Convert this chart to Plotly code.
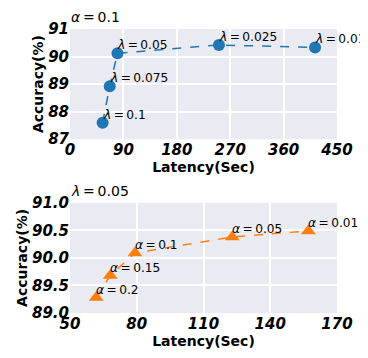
import plotly.graph_objects as go
from plotly.subplots import make_subplots

# Top panel: alpha = 0.1, varying lambda
lat_top = [55, 67, 80, 251, 413]
acc_top = [87.6, 88.92, 90.12, 90.42, 90.33]
lab_top = ["0.1", "0.075", "0.05", "0.025", "0.01"]
xticks_top = [0, 90, 180, 270, 360, 450]
yticks_top = [87, 88, 89, 90, 91]

# Bottom panel: lambda = 0.05, varying alpha
lat_bot = [61.8, 68.1, 79.2, 122.9, 157.1]
acc_bot = [89.28, 89.68, 90.09, 90.38, 90.49]
lab_bot = ["0.2", "0.15", "0.1", "0.05", "0.01"]
xticks_bot = [50, 80, 110, 140, 170]
yticks_bot = [89.0, 89.5, 90.0, 90.5, 91.0]

FONT = "DejaVu Sans"
BG = "#EAEAF2"
TS = "\u2009"  # thin space, like mathtext spacing around '='

fig = make_subplots(rows=2, cols=1, vertical_spacing=0.224)

fig.add_trace(go.Scatter(x=lat_top, y=acc_top, mode="lines+markers",
                         line=dict(color="#1f77b4", dash="dash", width=1.5),
                         marker=dict(symbol="circle", size=12, color="#1f77b4"),
                         showlegend=False), row=1, col=1)
fig.add_trace(go.Scatter(x=lat_bot, y=acc_bot, mode="lines+markers",
                         line=dict(color="#ff7f0e", dash="dash", width=1.5),
                         marker=dict(symbol="triangle-up", size=13, color="#ff7f0e"),
                         showlegend=False), row=2, col=1)

for x, y, t in zip(lat_top, acc_top, lab_top):
    fig.add_annotation(x=x, y=y, xref="x", yref="y", text="<i>λ</i>" + TS + "=" + TS + t,
                       showarrow=False, xanchor="left", yanchor="middle", borderpad=0,
                       xshift=-1, yshift=8, font=dict(family=FONT, size=12.2, color="black"))
for x, y, t in zip(lat_bot, acc_bot, lab_bot):
    fig.add_annotation(x=x, y=y, xref="x2", yref="y2", text="<i>α</i>" + TS + "=" + TS + t,
                       showarrow=False, xanchor="left", yanchor="middle", borderpad=0,
                       xshift=-1, yshift=8, font=dict(family=FONT, size=12.2, color="black"))

fig.add_annotation(x=0, y=1, xref="x domain", yref="y domain", text="<i>α</i>" + TS + "=" + TS + "0.1",
                   showarrow=False, xanchor="left", yanchor="middle", yshift=12, borderpad=0,
                   font=dict(family=FONT, size=14, color="black"))
fig.add_annotation(x=0, y=1, xref="x2 domain", yref="y2 domain", text="<i>λ</i>" + TS + "=" + TS + "0.05",
                   showarrow=False, xanchor="left", yanchor="middle", yshift=12, borderpad=0,
                   font=dict(family=FONT, size=14, color="black"))

tickfont = dict(family=FONT, size=15, color="black", weight="bold", style="italic")
titlefont = dict(family=FONT, size=14, color="black", weight="bold")
axcommon = dict(showgrid=True, gridcolor="white", gridwidth=1.6, zeroline=False,
                showline=False, ticks="", tickfont=tickfont)

fig.update_xaxes(range=[0, 450], tickvals=xticks_top, title=dict(text="Latency(Sec)", font=titlefont, standoff=3),
                 row=1, col=1, **axcommon)
fig.update_yaxes(range=[87, 91], tickvals=yticks_top, title=dict(text="Accuracy(%)", font=titlefont, standoff=1),
                 row=1, col=1, **axcommon)
fig.update_xaxes(range=[50, 170], tickvals=xticks_bot, title=dict(text="Latency(Sec)", font=titlefont, standoff=3),
                 row=2, col=1, **axcommon)
fig.update_yaxes(range=[89, 91], tickvals=yticks_bot, tickformat=".1f",
                 title=dict(text="Accuracy(%)", font=titlefont, standoff=1),
                 row=2, col=1, **axcommon)

# page body has an 8px default margin, so the figure is 360x350 placed at (8, 8)
fig.update_layout(width=360, height=350, margin=dict(l=62, r=31, t=14, b=41),
                  plot_bgcolor=BG, paper_bgcolor="white",
                  font=dict(family=FONT, color="black"))

fig.write_html("out.html")
